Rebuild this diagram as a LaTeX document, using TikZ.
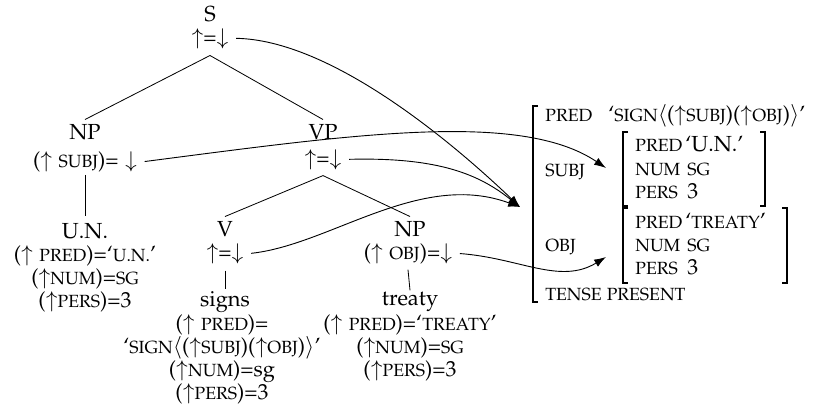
\documentclass[tikz,border=0pt]{standalone}
\usepackage[T1]{fontenc}
\usepackage[sc]{mathpazo}
\usetikzlibrary{arrows.meta}
\newcommand\fsc[1]{{\fontsize{9.7}{11}\selectfont #1}}
\newcommand\stackann[1]{\begin{tabular}[t]{@{}c@{}}#1\end{tabular}}
\begin{document}
\begin{tikzpicture}[x=0.55pt,y=-0.55pt,
  lbl/.style={inner sep=0pt,anchor=base,font=\fontsize{12}{12.65}\selectfont},
  fs/.style={inner sep=0pt,anchor=base west,font=\fontsize{12}{14}\selectfont},
  edge/.style={line width=0.45pt},
  link/.style={line width=0.5pt,-{Latex[length=6.5pt,width=4.5pt]}},
  brk/.style={line width=1.1pt}]
\fill[white] (0,0) rectangle (820,410);
\useasboundingbox (0,0) rectangle (820,410);
% c-structure
\node[lbl] (S) at (210,21) {S};
\node[lbl] (Sann) at (210,44) {$\uparrow$=$\downarrow$};
\node[lbl] (NP) at (85,139) {NP};
\node[lbl] (NPann) at (85,167) {($\uparrow$ \fsc{SUBJ})= $\downarrow$};
\node[lbl] (VP) at (323,139) {VP};
\node[lbl] (VPann) at (323,165) {$\uparrow$=$\downarrow$};
\node[lbl] (UN) at (85,238) {U.N.};
\node[lbl] (UNann) at (85,261) {\stackann{($\uparrow$ \fsc{PRED})=`\fsc{U.N.}'\\($\uparrow$\fsc{NUM})=\fsc{SG}\\($\uparrow$\fsc{PERS})=3}};
\node[lbl] (V) at (225,236) {V};
\node[lbl] (Vann) at (225,259) {$\uparrow$=$\downarrow$};
\node[lbl] (signs) at (225,306) {signs};
\node[lbl] (signsann) at (222,330) {\stackann{($\uparrow$ \fsc{PRED})=\\`\fsc{SIGN}$\langle$($\uparrow$\fsc{SUBJ})($\uparrow$\fsc{OBJ})$\rangle$'\\($\uparrow$\fsc{NUM})=sg\\($\uparrow$\fsc{PERS})=3}};
\node[lbl] (NPo) at (410,236) {NP};
\node[lbl] (NPoann) at (408,259) {($\uparrow$ \fsc{OBJ})=$\downarrow$};
\node[lbl] (treaty) at (410,305) {treaty};
\node[lbl] (treatyann) at (410,330) {\stackann{($\uparrow$ \fsc{PRED})=`\fsc{TREATY}'\\($\uparrow$\fsc{NUM})=\fsc{SG}\\($\uparrow$\fsc{PERS})=3}};
% tree edges
\draw[edge] ([yshift=-3.7pt]Sann.south) -- ([yshift=2.2pt]NP.north);
\draw[edge] ([yshift=-3.7pt]Sann.south) -- ([yshift=2.2pt]VP.north);
\draw[edge] ([yshift=-1.4pt]NPann.south) -- ([yshift=3.8pt]UN.north);
\draw[edge] ([yshift=-3.2pt]VPann.south) -- ([yshift=2.2pt]V.north);
\draw[edge] ([yshift=-3.2pt]VPann.south) -- ([yshift=2.2pt]NPo.north);
\draw[edge] ([yshift=-3.8pt]Vann.south) -- ([yshift=1pt]signs.north);
\draw[edge] ([yshift=-3pt]NPoann.south) -- ([yshift=0.6pt]treaty.north);
% f-structure
\node[fs] (fPred) at (545,121) {\fsc{PRED}};
\node[fs] (fPredV) at (608,121) {`\fsc{SIGN}$\langle$($\uparrow$\fsc{SUBJ})($\uparrow$\fsc{OBJ})$\rangle$'};
\node[fs] (fSubj) at (545,176) {\fsc{SUBJ}};
\node[fs] (sPred) at (635,151) {\fsc{PRED}};
\node[fs] (sPredV) at (685,151) {`U.N.'};
\node[fs] (sNum) at (635,175) {\fsc{NUM}};
\node[fs] (sNumV) at (687,175) {\fsc{SG}};
\node[fs] (sPers) at (635,198) {\fsc{PERS}};
\node[fs] (sPersV) at (687,198) {3};
\node[fs] (fObj) at (545,251) {\fsc{OBJ}};
\node[fs] (oPred) at (635,228) {\fsc{PRED}};
\node[fs] (oPredV) at (685,228) {`\fsc{TREATY}'};
\node[fs] (oNum) at (635,251) {\fsc{NUM}};
\node[fs] (oNumV) at (687,251) {\fsc{SG}};
\node[fs] (oPers) at (635,274) {\fsc{PERS}};
\node[fs] (oPersV) at (687,274) {3};
\node[fs] (fTense) at (545,300) {\fsc{TENSE PRESENT}};
% brackets
\draw[brk] (538,106) -- (533,106) -- (533,302) -- (538,302);
\draw[brk] (628,132) -- (623,132) -- (623,206) -- (628,206);
\draw[brk] (760,132) -- (765,132) -- (765,206) -- (760,206);
\draw[brk] (628,208) -- (623,208) -- (623,283) -- (628,283);
\draw[brk] (782,208) -- (787,208) -- (787,283) -- (782,283);
% arrow targets
\coordinate (fsTip) at (520,207);
\coordinate (subjTip) at (606,168);
\coordinate (objTip) at (606,257);
% links
\draw[link] ([xshift=4pt]Sann.east) .. controls (330,40) and (450,140) .. (fsTip);
\draw[link] ([xshift=4pt]VPann.east) .. controls (440,157) and (480,175) .. (fsTip);
\draw[link] ([xshift=4pt]Vann.east) .. controls (330,245) and (420,170) .. (fsTip);
\draw[link] ([xshift=4pt]NPann.east) .. controls (350,135) and (520,110) .. (subjTip);
\draw[link] ([xshift=4pt]NPoann.east) .. controls (520,258) and (560,285) .. (objTip);
\end{tikzpicture}
\end{document}
